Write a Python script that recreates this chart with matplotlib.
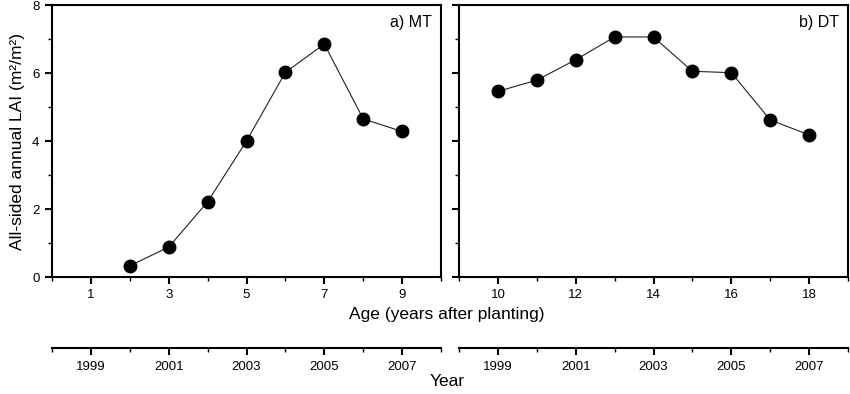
import matplotlib
matplotlib.use('Agg')
import matplotlib.pyplot as plt
from matplotlib.ticker import MultipleLocator

plt.rcParams['font.family'] = ['Liberation Sans', 'DejaVu Sans']

# LAI by stand age, MT and DT plots
mt_age = [2, 3, 4, 5, 6, 7, 8, 9]
mt_lai = [0.33, 0.88, 2.21, 4.0, 6.02, 6.85, 4.65, 4.28]
dt_age = [10, 11, 12, 13, 14, 15, 16, 17, 18]
dt_lai = [5.46, 5.79, 6.39, 7.06, 7.06, 6.05, 6.01, 4.62, 4.18]

mt_age_ticks = [1, 3, 5, 7, 9]
dt_age_ticks = [10, 12, 14, 16, 18]
year_ticks = [1999, 2001, 2003, 2005, 2007]
mt_offset = 1998  # year = age + offset
dt_offset = 1989

fig = plt.figure(figsize=(8.5, 3.94), dpi=100)

ax1 = fig.add_axes([52/850, 1-277/394, 389/850, 272/394])
ax2 = fig.add_axes([459/850, 1-277/394, 389/850, 272/394])
yr1 = fig.add_axes([52/850, 1-348/394, 389/850, 0.0001])
yr2 = fig.add_axes([459/850, 1-348/394, 389/850, 0.0001])

def style_panel(ax, ages, lai, xlim, xticks, label, showlabels):
    ax.plot(ages, lai, '-', color='#222222', lw=0.8, zorder=2)
    ax.plot(ages, lai, 'o', color='black', ms=9, zorder=3)
    ax.set_xlim(*xlim)
    ax.set_ylim(0, 8)
    ax.set_xticks(xticks)
    ax.xaxis.set_minor_locator(MultipleLocator(1))
    ax.yaxis.set_major_locator(MultipleLocator(2))
    ax.yaxis.set_minor_locator(MultipleLocator(1))
    ax.tick_params(which='major', direction='out', length=5, width=1.5, labelsize=9.5, pad=4)
    ax.tick_params(which='minor', direction='out', length=3, width=1)
    ax.tick_params(axis='y', labelleft=showlabels)
    for s in ax.spines.values():
        s.set_linewidth(1.5)
    ax.text(0.977, 0.937, label, transform=ax.transAxes, ha='right', va='center', fontsize=11.5)

style_panel(ax1, mt_age, mt_lai, (0, 10), mt_age_ticks, 'a) MT', True)
style_panel(ax2, dt_age, dt_lai, (9, 19), dt_age_ticks, 'b) DT', False)

def style_year(ax, offset, xlim):
    ax.set_xlim(xlim[0] + offset, xlim[1] + offset)
    ax.set_xticks(year_ticks)
    ax.xaxis.set_minor_locator(MultipleLocator(1))
    ax.set_yticks([])
    for k in ['top', 'left', 'right']:
        ax.spines[k].set_visible(False)
    ax.spines['bottom'].set_linewidth(1.5)
    ax.patch.set_visible(False)
    ax.tick_params(which='major', direction='out', length=5, width=1.5, labelsize=9.5, pad=4)
    ax.tick_params(which='minor', direction='out', length=3, width=1)

style_year(yr1, mt_offset, (0, 10))
style_year(yr2, dt_offset, (9, 19))

ax1.set_ylabel('All-sided annual LAI (m²/m²)', fontsize=12.5, labelpad=5)
fig.text(447/850, 1-315/394, 'Age (years after planting)', ha='center', va='center', fontsize=12.5)
fig.text(447/850, 1-382/394, 'Year', ha='center', va='center', fontsize=12.5)

fig.savefig('out.png', dpi=100)
